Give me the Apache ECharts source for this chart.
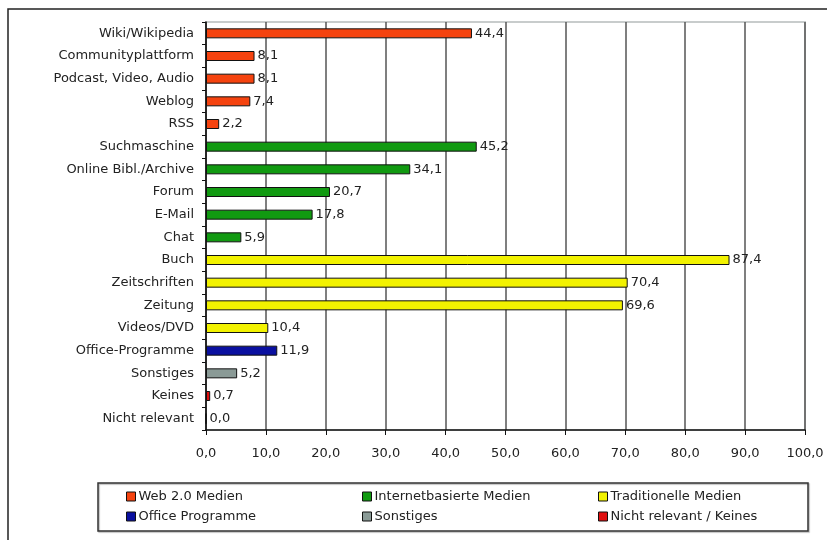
<!DOCTYPE html>
<html>
<head>
<meta charset="utf-8">
<script src="https://cdn.jsdelivr.net/npm/echarts@6/dist/echarts.min.js"></script>
<style>
    html, body {margin: 0; padding: 0; background: #fff;}
    #chart {width: 827px; height: 540px;}
</style>
</head>
<body>
<div id="chart"></div>
<script>
const categories = [
    'Wiki/Wikipedia', 'Communityplattform', 'Podcast, Video, Audio', 'Weblog', 'RSS',
    'Suchmaschine', 'Online Bibl./Archive', 'Forum', 'E-Mail', 'Chat',
    'Buch', 'Zeitschriften', 'Zeitung', 'Videos/DVD',
    'Office-Programme', 'Sonstiges', 'Keines', 'Nicht relevant'
];

// values per group, '-' where the category belongs to another group
const web20 = [44.4, 8.1, 8.1, 7.4, 2.2, '-', '-', '-', '-', '-', '-', '-', '-', '-', '-', '-', '-', '-'];
const internet = ['-', '-', '-', '-', '-', 45.2, 34.1, 20.7, 17.8, 5.9, '-', '-', '-', '-', '-', '-', '-', '-'];
const traditionell = ['-', '-', '-', '-', '-', '-', '-', '-', '-', '-', 87.4, 70.4, 69.6, 10.4, '-', '-', '-', '-'];
const office = ['-', '-', '-', '-', '-', '-', '-', '-', '-', '-', '-', '-', '-', '-', 11.9, '-', '-', '-'];
const sonstiges = ['-', '-', '-', '-', '-', '-', '-', '-', '-', '-', '-', '-', '-', '-', '-', 5.2, '-', '-'];
const keines = ['-', '-', '-', '-', '-', '-', '-', '-', '-', '-', '-', '-', '-', '-', '-', '-', 0.7, 0.0];

const xTicks = {min: 0, max: 100, interval: 10};

const groups = [
    {name: 'Web 2.0 Medien', data: web20, color: '#f5430f'},
    {name: 'Internetbasierte Medien', data: internet, color: '#119a11'},
    {name: 'Traditionelle Medien', data: traditionell, color: '#f2f200'},
    {name: 'Office Programme', data: office, color: '#0a10a0'},
    {name: 'Sonstiges', data: sonstiges, color: '#8a9a96'},
    {name: 'Nicht relevant / Keines', data: keines, color: '#e01010'}
];

const font = 'DejaVu Sans, Liberation Sans, sans-serif';

const fmt = (v) => v.toFixed(1).replace('.', ',');

const seriesData = groups.map((g) => ({
    name: g.name,
    type: 'bar',
    data: g.data,
    barWidth: 10,
    barGap: '-100%',
    itemStyle: {color: g.color, borderColor: '#111', borderWidth: 1},
    label: {
        show: true,
        position: 'right',
        distance: 3,
        color: '#222',
        fontFamily: font,
        fontSize: 13,
        formatter: (p) => fmt(p.value)
    }
}));

const legendCommon = {
    orient: 'vertical',
    icon: 'rect',
    itemWidth: 9,
    itemHeight: 9,
    itemGap: 7,
    itemStyle: {borderColor: '#111', borderWidth: 1},
    textStyle: {fontFamily: font, fontSize: 13, color: '#222', padding: [0, 0, 0, -2]},
    top: 485,
    selectedMode: false
};

const chart = echarts.init(document.getElementById('chart'));

const option = {
    animation: false,
    backgroundColor: '#fff',
    grid: {
        left: 206, right: 22, top: 22, bottom: 110,
        show: true, borderColor: '#c8cccc', borderWidth: 2
    },
    legend: [
        Object.assign({}, legendCommon, {left: 121, data: ['Web 2.0 Medien', 'Office Programme']}),
        Object.assign({}, legendCommon, {left: 357, data: ['Internetbasierte Medien', 'Sonstiges']}),
        Object.assign({}, legendCommon, {left: 593, data: ['Traditionelle Medien', 'Nicht relevant / Keines']})
    ],
    xAxis: {
        type: 'value',
        min: xTicks.min,
        max: xTicks.max,
        interval: xTicks.interval,
        axisLine: {show: true, lineStyle: {color: '#111', width: 1.5}},
        axisTick: {show: true, length: 5, lineStyle: {color: '#111'}},
        axisLabel: {
            margin: 17,
            fontFamily: font,
            fontSize: 13,
            color: '#222',
            formatter: (v) => fmt(v)
        },
        splitLine: {show: true, lineStyle: {color: '#555', width: 1.5}}
    },
    yAxis: {
        type: 'category',
        data: categories,
        inverse: true,
        axisLine: {show: true, lineStyle: {color: '#111', width: 1.5}},
        axisTick: {show: true, length: 4, lineStyle: {color: '#111'}},
        axisLabel: {
            margin: 12,
            fontFamily: font,
            fontSize: 13,
            color: '#222'
        }
    },
    graphic: [
        {
            type: 'rect',
            shape: {x: 8, y: 9, width: 830, height: 540},
            style: {fill: 'none', stroke: '#222', lineWidth: 1.5},
            silent: true
        },
        {
            type: 'rect',
            shape: {x: 98, y: 483, width: 710, height: 48},
            style: {fill: 'none', stroke: '#333', lineWidth: 1.5, shadowColor: 'rgba(0,0,0,0.3)', shadowOffsetX: 1, shadowOffsetY: 1, shadowBlur: 1},
            silent: true,
            z: -1
        }
    ],
    series: seriesData
};

option && chart.setOption(option);
</script>
</body>
</html>
